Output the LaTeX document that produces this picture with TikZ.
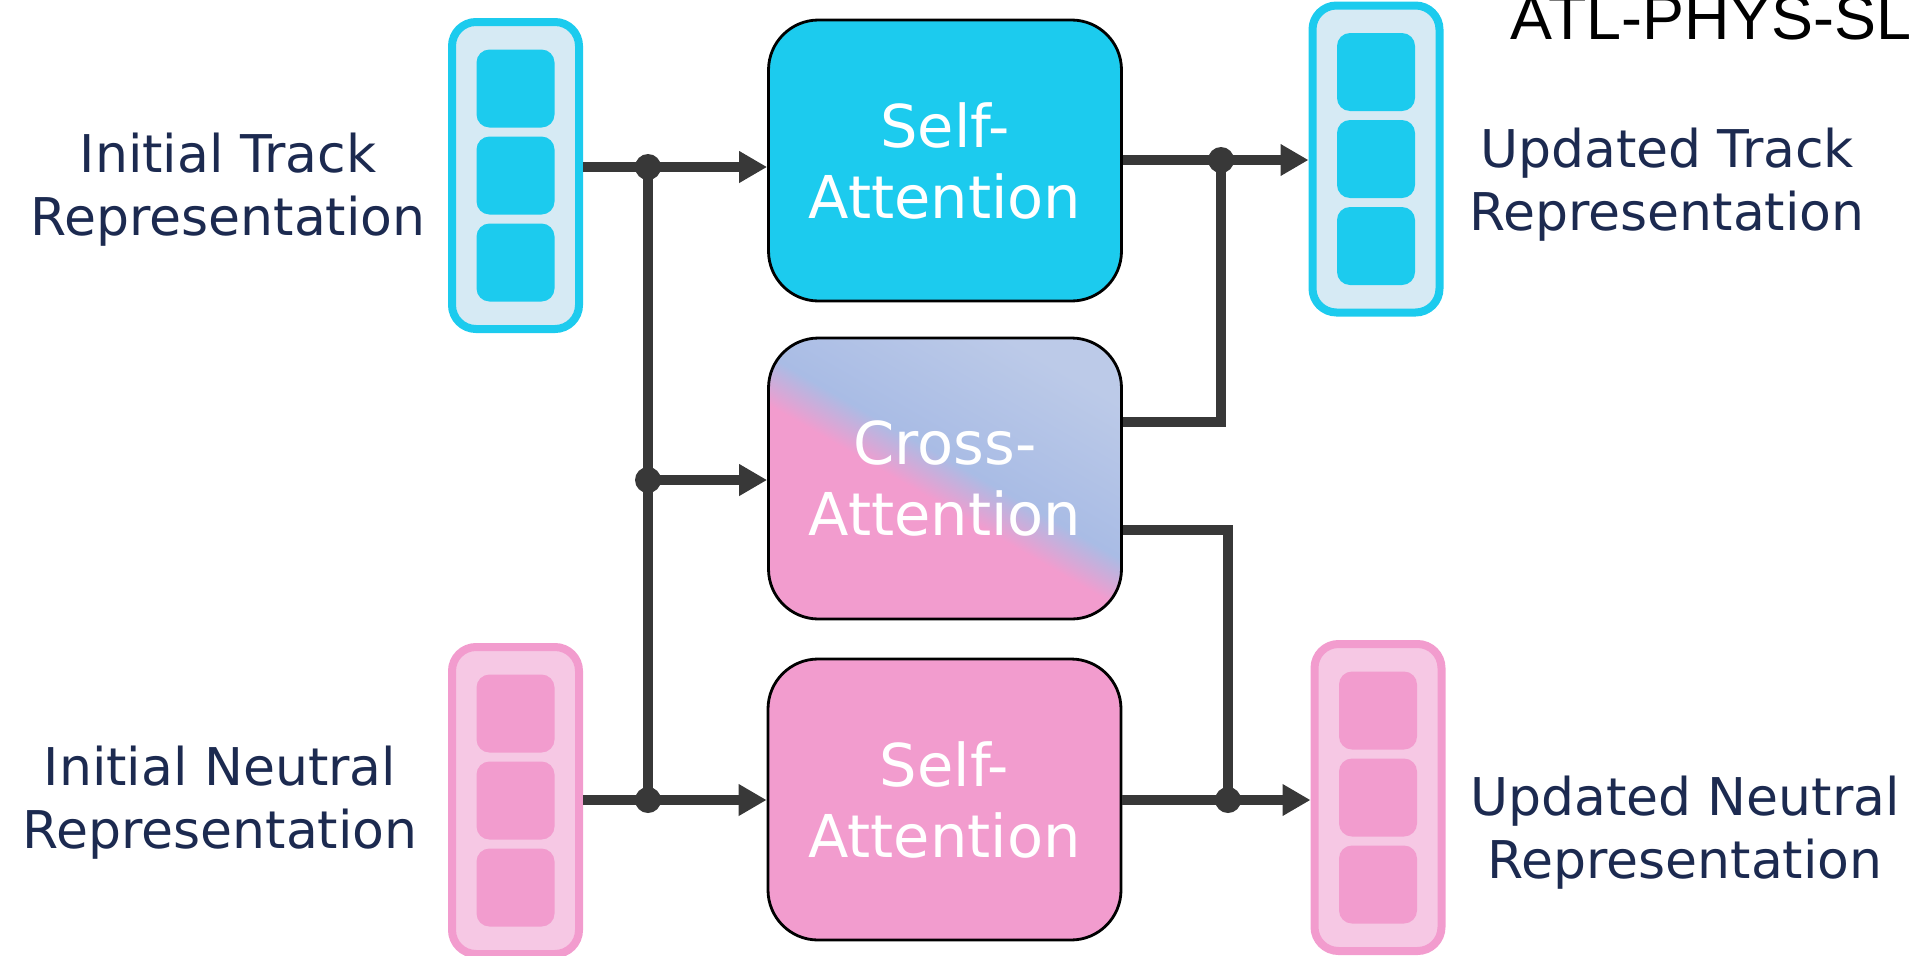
\documentclass[tikz,border=0pt]{standalone}
\usepackage{fontspec}
\setmainfont{DejaVu Sans}
\newfontfamily\notefont{Liberation Sans}
\usetikzlibrary{arrows.meta}

\definecolor{trackcyan}{HTML}{1CCBEE}
\definecolor{tracklight}{HTML}{D6EAF4}
\definecolor{neutralpink}{HTML}{F29CCE}
\definecolor{neutrallight}{HTML}{F6C8E4}
\definecolor{crossblue}{HTML}{A9BCE5}
\definecolor{crosslight}{HTML}{BCCAE8}
\definecolor{labelnavy}{HTML}{1C2A50}
\definecolor{wiregray}{HTML}{383838}

\pgfdeclareverticalshading{crossfade}{100bp}{color(0bp)=(neutralpink); color(46bp)=(neutralpink); color(53bp)=(crossblue); color(75bp)=(crosslight); color(100bp)=(crosslight)}

\begin{document}
\begin{tikzpicture}
[x=1cm,y=-1cm,%
  every node/.style={inner sep=0pt},%
  block/.style={draw=black,line width=0.8pt,rounded corners=0.5cm,
    minimum width=3.53cm,minimum height=2.81cm,text=white,align=center,
    font=\fontsize{16.8}{20.2}\selectfont},%
  stack/.style={line width=0.08cm,rounded corners=0.24cm,
    minimum width=1.27cm,minimum height=3.07cm},%
  cell/.style={rounded corners=0.13cm,minimum size=0.78cm},%
  repr/.style={text=labelnavy,align=center,font=\fontsize{14.8}{17.9}\selectfont},%
  wire/.style={draw=wiregray,line width=0.1cm},%
  feed/.style={wire,-{Triangle[length=0.28cm,width=0.3cm]}},%
  joint/.style={circle,fill=wiregray,minimum size=0.26cm}]
\useasboundingbox (0,0) rectangle (19.11,9.55);
\clip (0,0) rectangle (19.11,9.55);
%%
\node[block,fill=trackcyan] (selfTrack) at (9.45,1.605) {Self-\\Attention};
\node[block,shade,shading=crossfade,shading angle=-30] (cross) at (9.45,4.785) {Cross-\\Attention};
\node[block,fill=neutralpink] (selfNeutral) at (9.445,7.995) {Self-\\Attention};
%%
\node[stack,draw=trackcyan,fill=tracklight] (trackIn) at (5.155,1.755) {};
\node[stack,draw=trackcyan,fill=tracklight] (trackOut) at (13.76,1.59) {};
\node[stack,draw=neutralpink,fill=neutrallight] (neutralIn) at (5.155,8.005) {};
\node[stack,draw=neutralpink,fill=neutrallight] (neutralOut) at (13.78,7.975) {};
\foreach \stk/\tone in {trackIn/trackcyan,trackOut/trackcyan,neutralIn/neutralpink,neutralOut/neutralpink}
  \foreach \i/\dy in {1/0.87,2/0,3/-0.87}
    \node[cell,fill=\tone] (\stk-\i) at ([yshift=\dy cm]\stk.center) {};
%%
\node[repr] (trackInText) at (2.28,1.90) {Initial Track\\Representation};
\node[repr] (neutralInText) at (2.20,8.03) {Initial Neutral\\Representation};
\node[repr] (trackOutText) at (16.67,1.85) {Updated Track\\Representation};
\node[repr] (neutralOutText) at (16.85,8.33) {Updated Neutral\\Representation};
\node[anchor=base west,font=\notefont\fontsize{17.9}{20}\selectfont] (note) at (15.10,0.39) {ATL-PHYS-SL};
%%
\node[joint] (jTrack) at (6.48,1.67) {};
\node[joint] (jCross) at (6.48,4.80) {};
\node[joint] (jNeutral) at (6.48,8.00) {};
\node[joint] (jTrackOut) at (12.21,1.60) {};
\node[joint] (jNeutralOut) at (12.28,8.00) {};
\coordinate (bendUp) at (12.21,4.22);
\coordinate (bendDown) at (12.28,5.30);
%%
\draw[wire] (trackIn.east |- jTrack) -- (jTrack.center) -- (jNeutral.center);
\draw[wire] (neutralIn.east |- jNeutral) -- (jNeutral.center);
\draw[wire] (selfTrack.east |- jTrackOut) -- (jTrackOut.center);
\draw[wire] (cross.east |- bendUp) -- (bendUp) -- (jTrackOut.center);
\draw[wire] (cross.east |- bendDown) -- (bendDown) -- (jNeutralOut.center);
\draw[wire] (selfNeutral.east |- jNeutralOut) -- (jNeutralOut.center);
\foreach \from/\to in {jTrack/selfTrack,jCross/cross,jNeutral/selfNeutral,
  jTrackOut/trackOut,jNeutralOut/neutralOut}
  \draw[feed] (\from.center) -- (\to.west |- \from);
\end{tikzpicture}
\end{document}
